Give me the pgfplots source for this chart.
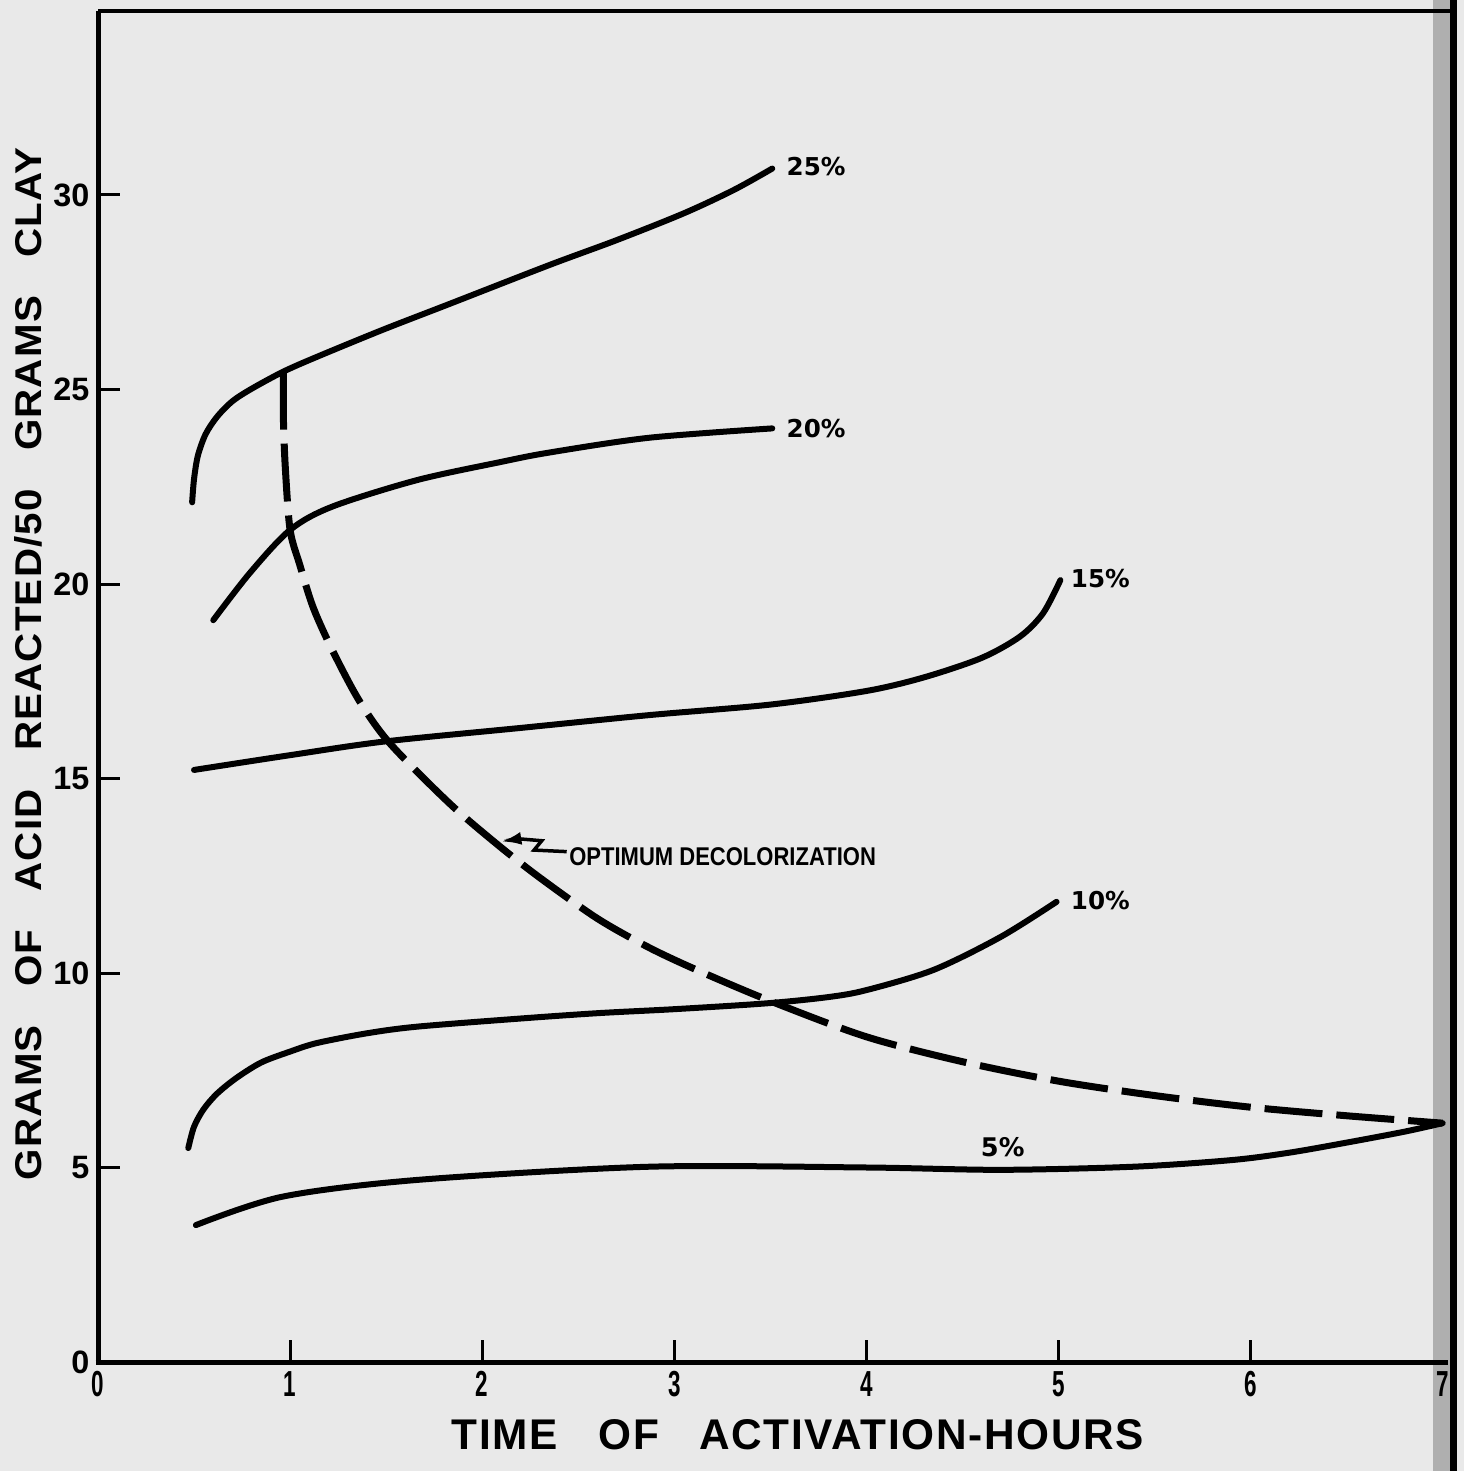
\documentclass[border=0pt]{standalone}
\usepackage{pgfplots}
\pgfplotsset{compat=1.18}
\usepackage{fontspec}
\setmainfont{Liberation Sans}
\newfontfamily\dvs{DejaVu Sans}
\usetikzlibrary{arrows.meta}
\definecolor{paper}{RGB}{233,233,233}
\definecolor{band}{RGB}{175,175,175}

\begin{document}
\begin{tikzpicture}
% page background and right page edge band
\fill[paper] (-9.8mm,-10.9mm) rectangle (136.6mm,136.2mm);
\fill[band] (133.5mm,-10.9mm) rectangle (135.2mm,136.2mm);
\begin{axis}[
  scale only axis, width=135.6mm, height=135.1mm,
  xmin=0, xmax=7.059, ymin=0, ymax=34.73,
  axis line style={draw=none},
  xtick={1,2,3,4,5,6}, extra x ticks={0,7},
  ytick={5,10,15,20,25,30}, extra y ticks={0},
  extra x tick style={major tick length=0pt},
  extra y tick style={major tick length=0pt},
  tick align=inside, xtick pos=bottom, ytick pos=left,
  major tick length=2.2mm,
  every tick/.style={black, line width=0.3mm},
  /pgf/number format/assume math mode=true,
  yticklabel style={font=\bfseries\fontsize{9.2}{9.2}\selectfont, inner sep=0.8mm},
  xticklabel={\scalebox{0.62}[1]{\pgfmathprintnumber{\tick}}},
  xticklabel style={font=\bfseries\fontsize{10.3}{10.3}\selectfont, inner sep=0.9mm},
]
% 25 %
\addplot[black, line width=0.6mm, smooth, line cap=round] coordinates {
(0.49,22.1) (0.50,22.7) (0.52,23.3) (0.56,23.85) (0.62,24.3) (0.70,24.7)
(0.80,25.02) (0.965,25.46) (1.14,25.84) (1.48,26.53) (1.83,27.2) (2.35,28.2)
(2.70,28.84) (3.05,29.53) (3.31,30.13) (3.51,30.68)};
% 20 %
\addplot[black, line width=0.6mm, smooth, line cap=round] coordinates {
(0.60,19.07) (0.79,20.28) (1.0,21.39) (1.22,21.99) (1.66,22.67) (2.09,23.13)
(2.35,23.38) (2.87,23.76) (3.51,24.0)};
% 15 %
\addplot[black, line width=0.6mm, smooth, line cap=round] coordinates {
(0.50,15.22) (1.0,15.6) (1.49,15.95) (2.2,16.3) (2.87,16.63) (3.5,16.9)
(4.0,17.25) (4.3,17.6) (4.6,18.1) (4.8,18.65) (4.92,19.25) (5.01,20.1)};
% 10 %
\addplot[black, line width=0.6mm, smooth, line cap=round] coordinates {
(0.47,5.5) (0.50,6.05) (0.55,6.5) (0.62,6.9) (0.72,7.3) (0.85,7.7) (1.0,7.98)
(1.14,8.2) (1.4,8.45) (1.66,8.62) (2.2,8.83) (2.61,8.97) (3.0,9.07) (3.48,9.22)
(3.8,9.38) (4.0,9.56) (4.35,10.08) (4.70,10.93) (4.99,11.83)};
% 5 %
\addplot[black, line width=0.6mm, smooth, line cap=round] coordinates {
(0.51,3.52) (0.96,4.25) (1.66,4.68) (2.87,5.02) (4.0,5.0) (4.70,4.94)
(5.39,5.02) (5.9,5.19) (6.2,5.38) (6.5,5.64) (6.8,5.92) (7.0,6.14)};
% optimum decolorization
\addplot[black, line width=0.7mm, smooth, dash pattern=on 5.8mm off 1.4mm] coordinates {
(0.965,25.46) (0.965,24.3) (0.975,23.0) (1.0,21.39) (1.05,20.5) (1.12,19.4)
(1.22,18.3) (1.36,17.0) (1.52,15.9) (1.83,14.36) (2.08,13.3) (2.3,12.45)
(2.6,11.4) (2.87,10.65) (3.13,10.05) (3.51,9.26) (4.0,8.36) (4.5,7.72)
(5.0,7.22) (5.5,6.85) (6.0,6.55) (6.5,6.33) (7.0,6.14)};

\node[anchor=west, inner sep=0.6mm, font=\dvs\bfseries\fontsize{7}{7}\selectfont] at (axis cs:3.55,30.72) {25\%};
\node[anchor=west, inner sep=0.6mm, font=\dvs\bfseries\fontsize{7}{7}\selectfont] at (axis cs:3.55,24.0) {20\%};
\node[anchor=west, inner sep=0.6mm, font=\dvs\bfseries\fontsize{7}{7}\selectfont] at (axis cs:5.03,20.15) {15\%};
\node[anchor=west, inner sep=0.6mm, font=\dvs\bfseries\fontsize{7}{7}\selectfont] at (axis cs:5.03,11.85) {10\%};
\node[inner sep=0pt, font=\dvs\bfseries\fontsize{7.3}{7.3}\selectfont] at (axis cs:4.71,5.53) {5\%};
\node[anchor=west, inner sep=0pt] at (axis cs:2.45,12.98)
  {\scalebox{0.858}[1]{\fontsize{7.3}{7.3}\selectfont\bfseries OPTIMUM DECOLORIZATION}};
\draw[line width=0.35mm, -{Latex[length=2mm,width=1.3mm]}]
  (axis cs:2.44,13.12) -- (axis cs:2.27,13.16) -- (axis cs:2.31,13.40)
  -- (axis cs:2.19,13.45) -- (axis cs:2.10,13.38);
\end{axis}
% frame
\draw[line width=0.5mm] (0,135.1mm) -- (0,-0.25mm);
\draw[line width=0.5mm] (-0.25mm,0) -- (135.0mm,0);
\draw[line width=0.35mm] (0,135.1mm) -- (135.6mm,135.1mm);
\draw[line width=0.65mm] (135.55mm,-10.9mm) -- (135.55mm,136.2mm);
% axis titles
\node[rotate=90, inner sep=0pt] at (-7.0mm,69.8mm)
  {\resizebox{103.2mm}{2.7mm}{\bfseries\addfontfeature{LetterSpace=3}GRAMS\hspace{0.95em}OF\hspace{0.95em}ACID\hspace{0.95em}REACTED/50\hspace{0.95em}GRAMS\hspace{0.95em}CLAY}};
\node[inner sep=0pt] at (70.0mm,-7.3mm)
  {\resizebox{69.2mm}{3mm}{\bfseries\addfontfeature{LetterSpace=4}TIME\hspace{0.95em}OF\hspace{0.95em}ACTIVATION-HOURS}};
\pgfresetboundingbox
\path (-9.8mm,-10.9mm) rectangle (136.6mm,136.2mm);
\end{tikzpicture}
\end{document}
